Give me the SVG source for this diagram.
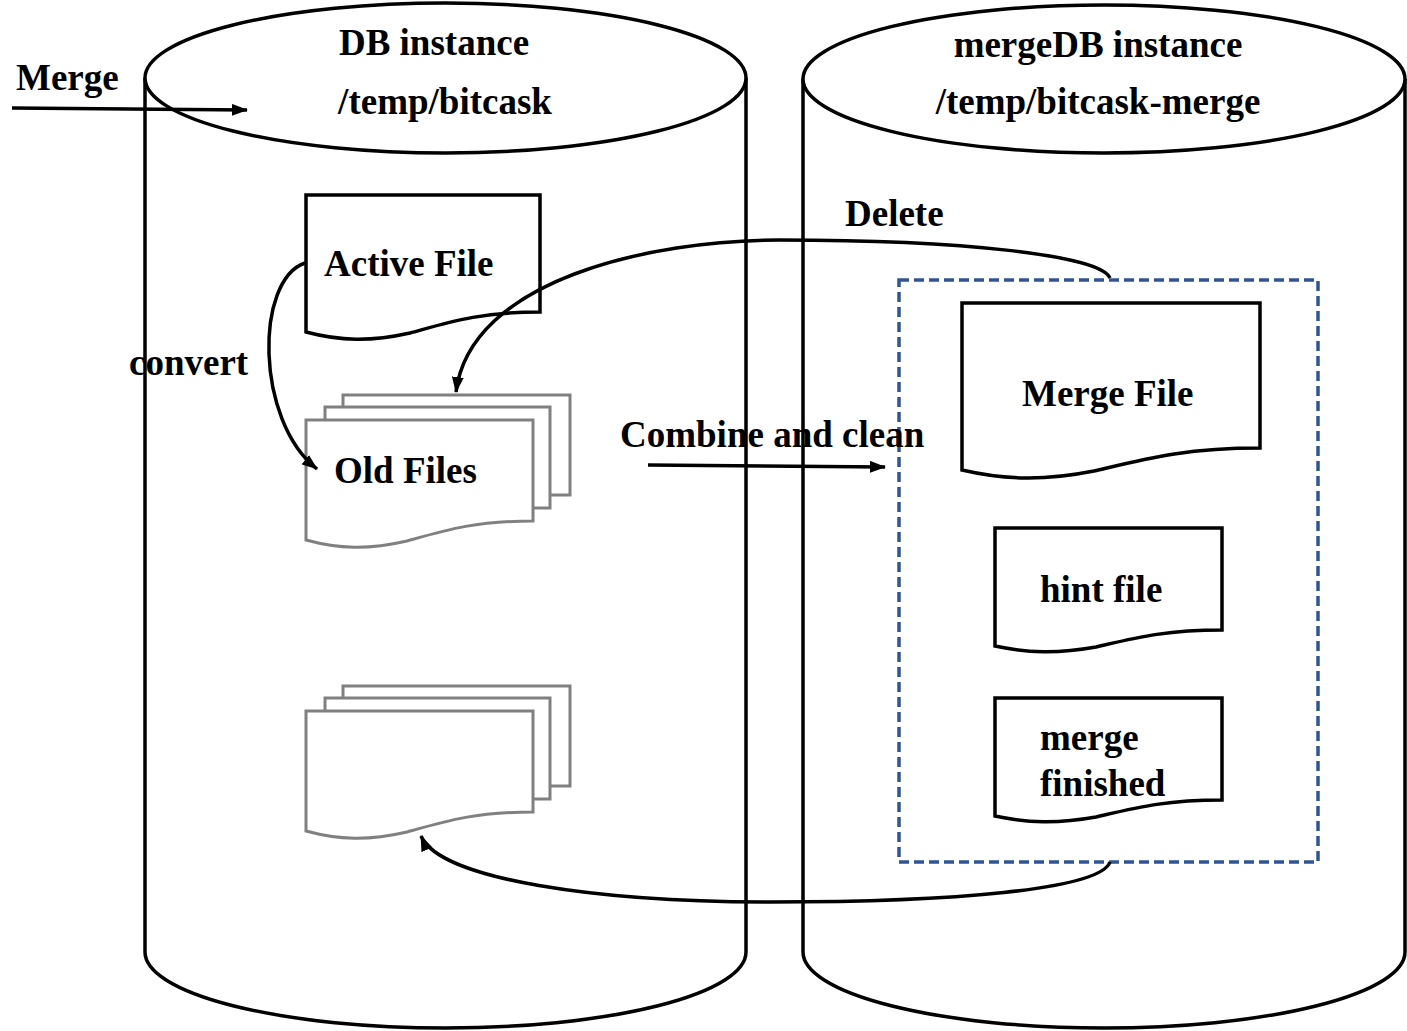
<svg xmlns="http://www.w3.org/2000/svg" width="1407" height="1031" viewBox="0 0 1407 1031">
<style>
.cyl{fill:#fff;stroke:#000;stroke-width:3.5}
.doc{fill:#fff;stroke:#000;stroke-width:3.5;stroke-linejoin:miter}
.old{fill:#fff;stroke:#808080;stroke-width:3}
.t{font-family:"Liberation Serif","Times New Roman",serif;font-weight:bold;font-size:37px;fill:#000}
.c{text-anchor:middle}
.con{fill:none;stroke:#000;stroke-width:3.5}
.dash{fill:none;stroke:#2F5597;stroke-width:3.5;stroke-dasharray:10 5}
</style>
<defs>
<marker id="ah" markerUnits="userSpaceOnUse" markerWidth="16" markerHeight="12" refX="15" refY="6" orient="auto">
<path d="M0,0 L16,6 L0,12 Z" fill="#000"/>
</marker>
</defs>
<g id="db-instance">
<path class="cyl" d="M145,78 V952 A300.5,76 0 0 0 746,952 V78"/>
<ellipse class="cyl" cx="445.5" cy="78" rx="300.5" ry="75"/>
<text class="t c" x="434" y="55">DB instance</text>
<text class="t c" x="445" y="114">/temp/bitcask</text>
</g>
<g id="mergedb-instance">
<path class="cyl" d="M803,79 V952 A301,76 0 0 0 1405,952 V79"/>
<ellipse class="cyl" cx="1104" cy="79" rx="301" ry="74"/>
<text class="t c" x="1098" y="57">mergeDB instance</text>
<text class="t c" x="1098" y="114">/temp/bitcask-merge</text>
</g>
<g id="active-file">
<path class="doc" d="M306,332 V195 H540 V312 C480,312 450,322 410,333 C370,342 340,341 306,332 Z"/>
<text class="t" x="324" y="276">Active File</text>
</g>
<g id="old-files">
<rect class="old" x="343" y="395" width="227" height="100"/>
<rect class="old" x="325" y="407" width="225" height="101"/>
<path class="old" d="M306,540 V420 H533 V521 C475,521 446,530 407,541 C368,550 339,549 306,540 Z"/>
<text class="t" x="334" y="483">Old Files</text>
</g>
<g id="new-files">
<rect class="old" x="343" y="686" width="227" height="100"/>
<rect class="old" x="325" y="698" width="225" height="101"/>
<path class="old" d="M306,831 V711 H533 V812 C475,812 446,821 407,832 C368,841 339,840 306,831 Z"/>
</g>
<g id="merge-group">
<rect class="dash" x="899" y="280" width="419" height="582"/>
</g>
<g id="merge-file">
<path class="doc" d="M962,470 V303 H1260 V448 C1184,448 1145,459 1094,471 C1044,481 1005,480 962,470 Z"/>
<text class="t" x="1022" y="406">Merge File</text>
</g>
<g id="hint-file">
<path class="doc" d="M995,646 V528 H1222 V630 C1164,630 1135,638 1096,647 C1057,654 1028,653 995,646 Z"/>
<text class="t" x="1040" y="602">hint file</text>
</g>
<g id="merge-finished">
<path class="doc" d="M995,816 V698 H1222 V800 C1164,800 1135,808 1096,817 C1057,824 1028,823 995,816 Z"/>
<text class="t" x="1040" y="750">merge</text>
<text class="t" x="1040" y="796">finished</text>
</g>
<g id="connectors">
<path class="con" d="M12,108 L247,110" marker-end="url(#ah)"/>
<text class="t" x="16" y="90">Merge</text>
<path class="con" d="M305,263 C255,280 255,420 317,469" marker-end="url(#ah)"/>
<text class="t" x="129" y="375">convert</text>
<path class="con" d="M1110,278 C1100,255 960,240 780,240 C650,240 470,280 456,392" marker-end="url(#ah)"/>
<text class="t" x="845" y="226">Delete</text>
<path class="con" d="M648,465 L885,467" marker-end="url(#ah)"/>
<text class="t" x="620" y="447">Combine and clean</text>
<path class="con" d="M1110,862 C1100,890 950,902 770,902 C600,902 440,880 421,836" marker-end="url(#ah)"/>
</g>
</svg>
